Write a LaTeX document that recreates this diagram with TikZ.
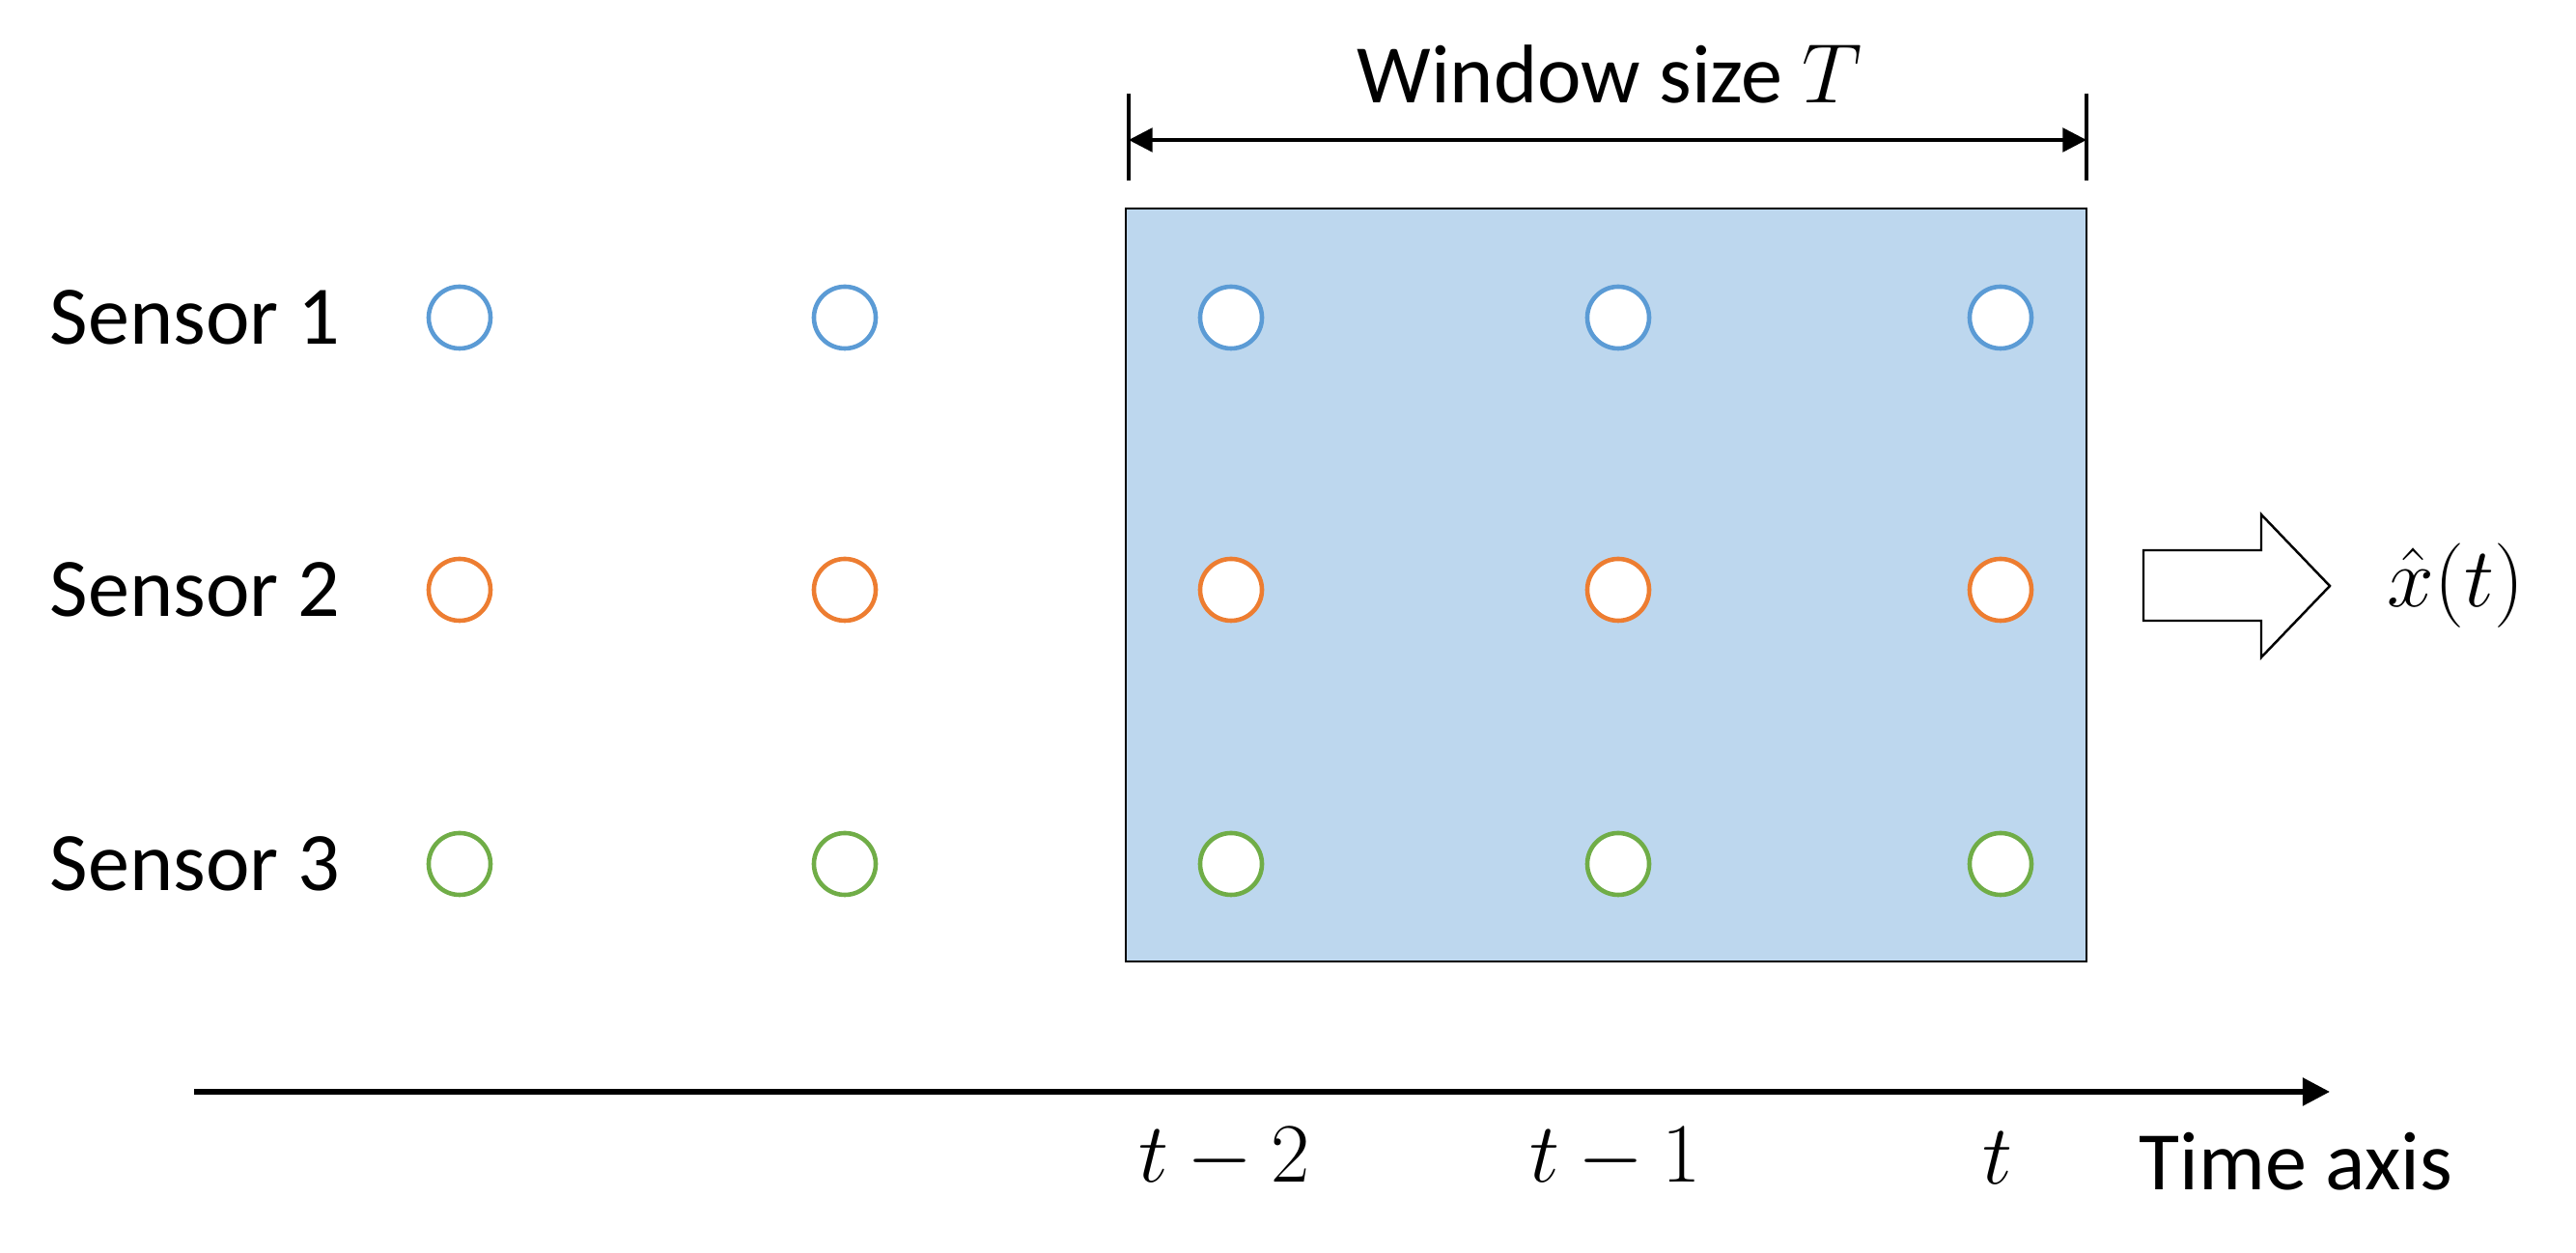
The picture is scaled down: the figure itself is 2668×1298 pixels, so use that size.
\documentclass[tikz,border=0pt]{standalone}
\usepackage{fontspec}
\setmainfont{Carlito}
\usetikzlibrary{arrows.meta}
\definecolor{sblue}{HTML}{5B9BD5}
\definecolor{sorange}{HTML}{ED7D31}
\definecolor{sgreen}{HTML}{70AD47}
\definecolor{winfill}{HTML}{BDD7EE}
\begin{document}
\begin{tikzpicture}[x=0.01cm,y=-0.01cm,
  lbl/.style={font=\fontsize{24.5}{29}\selectfont, inner sep=0pt},
  dot/.style={circle, draw=#1, fill=white, line width=1.3pt, minimum size=0.64cm, inner sep=0pt},
  win/.style={draw=black, fill=winfill, line width=0.7pt},
  tick/.style={line width=1.4pt},
  dimline/.style={line width=1pt, {Triangle[length=7pt,width=7pt]}-{Triangle[length=7pt,width=7pt]}},
  axisline/.style={line width=1.5pt, -{Triangle[length=8pt,width=8pt]}},
  blockarrow/.style={draw=black, fill=white, line width=0.7pt, line join=miter}]
\useasboundingbox (0,0) rectangle (2668,1298);
% window
\draw[win] (1166,216) rectangle (2161,996);
% dimension
\coordinate (tl1) at (1169,97);
\coordinate (tl2) at (1169,187);
\coordinate (tr1) at (2161,97);
\coordinate (tr2) at (2161,187);
\draw[tick] (tl1) -- (tl2);
\draw[tick] (tr1) -- (tr2);
\coordinate (dl) at (1169,145);
\coordinate (dr) at (2161,145);
\draw[dimline] (dl) -- (dr);
\node[lbl] (wlabel) at (1667,77) {Window size $T$};
% sensor labels
\node[lbl, anchor=west] (s1) at (51,329) {Sensor 1};
\node[lbl, anchor=west] (s2) at (51,611) {Sensor 2};
\node[lbl, anchor=west] (s3) at (51,895) {Sensor 3};
% dots
\foreach \i/\x in {1/476,2/875,3/1275,4/1676,5/2072}{
  \node[dot=sblue] (a\i) at (\x,329) {};
  \node[dot=sorange] (b\i) at (\x,611) {};
  \node[dot=sgreen] (c\i) at (\x,895) {};
}
% block arrow
\draw[blockarrow] (2220,570) -- (2342,570) -- (2342,533) -- (2413,607) -- (2342,681) -- (2342,643) -- (2220,643) -- cycle;
\node[lbl, anchor=west] (xhat) at (2472,607) {$\hat{x}(t)$};
% time axis
\coordinate (ax0) at (201,1131);
\coordinate (ax1) at (2413,1131);
\draw[axisline] (ax0) -- (ax1);
\node[lbl] (t2) at (1268,1200) {$t-2$};
\node[lbl] (t1) at (1673,1200) {$t-1$};
\node[lbl] (t0) at (2069,1200) {$t$};
\node[lbl, anchor=west] (taxis) at (2215,1203) {Time axis};
\end{tikzpicture}
\end{document}
